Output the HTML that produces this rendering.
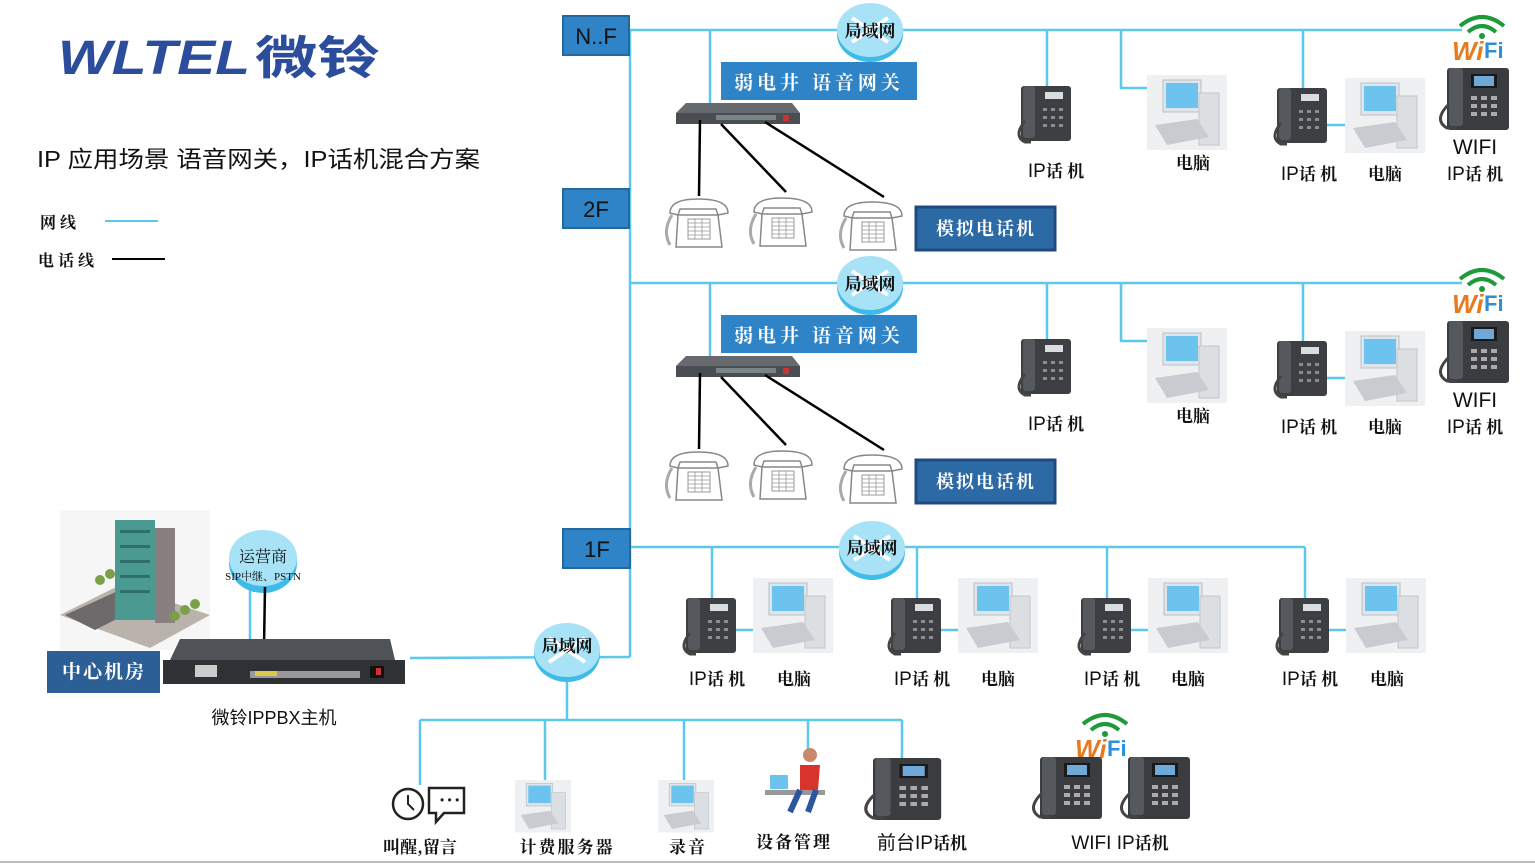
<!DOCTYPE html>
<html><head><meta charset="utf-8"><style>
html,body{margin:0;padding:0;background:#fff;}
svg{display:block;}
text{font-family:"Liberation Sans","Noto Sans CJK SC",sans-serif;}
.cj{font-family:"Noto Serif CJK SC","Noto Sans CJK SC",serif;font-weight:bold;}
</style></head><body>
<svg width="1535" height="864" viewBox="0 0 1535 864" xmlns="http://www.w3.org/2000/svg">
<defs>
<g id="ipp">
 <rect x="0" y="0" width="50" height="55" rx="3" fill="#3d3f43"/>
 <rect x="2" y="0" width="12" height="52" rx="3" fill="#55585d"/>
 <rect x="24" y="6" width="18" height="7" fill="#d8dde2"/>
 <g fill="#8a8d92"><rect x="22" y="22" width="4" height="3"/><rect x="30" y="22" width="4" height="3"/><rect x="38" y="22" width="4" height="3"/><rect x="22" y="30" width="4" height="3"/><rect x="30" y="30" width="4" height="3"/><rect x="38" y="30" width="4" height="3"/><rect x="22" y="38" width="4" height="3"/><rect x="30" y="38" width="4" height="3"/><rect x="38" y="38" width="4" height="3"/></g>
 <path d="M4 35 Q-8 50 4 56 L10 56" stroke="#444" stroke-width="3" fill="none"/>
</g>
<g id="pc">
 <rect x="0" y="0" width="80" height="75" fill="#eef0f1"/>
 <rect x="16" y="5" width="38" height="32" fill="#dfe5ea" stroke="#b7c0c8"/>
 <rect x="19" y="8" width="32" height="25" fill="#6cc4ee"/>
 <rect x="52" y="18" width="20" height="52" fill="#dcdfe2" stroke="#c2c6ca"/>
 <path d="M8 50 L50 44 L62 62 L20 70 Z" fill="#c8ccd0"/>
</g>
<g id="ana">
 <path d="M4 18 Q4 4 32 4 Q62 4 62 18 L52 20 L50 14 L14 14 L12 20 Z" fill="#fff" stroke="#888" stroke-width="1.5"/>
 <path d="M12 20 L52 20 L56 52 L10 52 Z" fill="#fff" stroke="#888" stroke-width="1.5"/>
 <rect x="22" y="24" width="22" height="20" fill="#fff" stroke="#999"/>
 <path d="M22 28h22M22 32h22M22 36h22M22 40h22M29 24v20M36 24v20" stroke="#999" stroke-width="0.8"/>
 <path d="M6 20 Q-4 36 4 50" stroke="#aaa" stroke-width="3" fill="none"/>
</g>
<g id="cloud">
 <ellipse cx="0" cy="4" rx="33" ry="28" fill="#3fbbe8"/>
 <ellipse cx="0" cy="0" rx="33" ry="27" fill="#a8e2f6"/>
 <path d="M-18 -12 L18 12 M18 -12 L-18 12" stroke="#fff" stroke-width="4"/>
</g>
<g id="wifi">
 <path d="M8 14 Q30 -4 52 14" stroke="#1f9a3a" stroke-width="4" fill="none"/>
 <path d="M16 20 Q30 8 44 20" stroke="#1f9a3a" stroke-width="4" fill="none"/>
 <circle cx="30" cy="24" r="3" fill="#1f9a3a"/>
 <text x="0" y="48" font-size="26" font-weight="bold" font-style="italic" fill="#e87a1e">Wi</text>
 <text x="32" y="46" font-size="22" font-weight="bold" fill="#2e8ed8">Fi</text>
</g>
<g id="wphone">
 <rect x="10" y="0" width="62" height="62" rx="3" fill="#3a3c40"/>
 <rect x="12" y="0" width="14" height="58" rx="3" fill="#55585d"/>
 <rect x="34" y="6" width="26" height="14" fill="#1a1a1a"/><rect x="37" y="8" width="20" height="10" fill="#6fa9d8"/>
 <g fill="#aaa"><rect x="34" y="28" width="6" height="4"/><rect x="44" y="28" width="6" height="4"/><rect x="54" y="28" width="6" height="4"/><rect x="34" y="36" width="6" height="4"/><rect x="44" y="36" width="6" height="4"/><rect x="54" y="36" width="6" height="4"/><rect x="34" y="44" width="6" height="4"/><rect x="44" y="44" width="6" height="4"/><rect x="54" y="44" width="6" height="4"/></g>
 <path d="M12 36 Q-4 52 10 60 L20 60" stroke="#444" stroke-width="3" fill="none"/>
</g>
<g id="gw">
 <path d="M10 0 L116 0 L124 10 L0 10 Z" fill="#666a6e"/>
 <rect x="0" y="10" width="124" height="11" fill="#4a4d51"/>
 <rect x="40" y="12" width="60" height="5" fill="#9aa" opacity="0.6"/>
 <rect x="107" y="12" width="6" height="6" fill="#c33"/>
</g>
</defs>

<!-- logo -->
<text x="58" y="74" font-size="48" font-weight="bold" font-style="italic" fill="#2c4d9c" textLength="192" lengthAdjust="spacingAndGlyphs">WLTEL</text>
<text x="255" y="74" font-size="46" font-weight="bold" fill="#2c4d9c" style="font-family:'Noto Sans CJK SC',sans-serif" textLength="125" lengthAdjust="spacingAndGlyphs">微铃</text>
<text x="37" y="167" font-size="23" fill="#111" textLength="443" lengthAdjust="spacingAndGlyphs">IP 应用场景 语音网关，IP话机混合方案</text>
<text x="40" y="228" font-size="16" class="cj" fill="#111">网 线</text>
<line x1="105" y1="221" x2="158" y2="221" stroke="#5bc8ec" stroke-width="2"/>
<text x="38" y="266" font-size="16" class="cj" fill="#111">电 话 线</text>
<line x1="112" y1="259" x2="165" y2="259" stroke="#000" stroke-width="2"/>

<g stroke="#5bc8ec" stroke-width="2.5" fill="none">
 <line x1="630" y1="30" x2="630" y2="657"/>
 <line x1="410" y1="658" x2="630" y2="657"/>
 <line x1="630" y1="30" x2="1462" y2="30"/>
 <line x1="710" y1="30" x2="710" y2="105"/>
 <line x1="1047" y1="30" x2="1047" y2="88"/>
 <polyline points="1121,30 1121,88 1158,88"/>
 <line x1="1303" y1="30" x2="1303" y2="90"/>
 <line x1="1320" y1="125" x2="1360" y2="125"/>
 <line x1="630" y1="283" x2="1462" y2="283"/>
 <line x1="710" y1="283" x2="710" y2="358"/>
 <line x1="1047" y1="283" x2="1047" y2="341"/>
 <polyline points="1121,283 1121,341 1158,341"/>
 <line x1="1303" y1="283" x2="1303" y2="343"/>
 <line x1="1320" y1="378" x2="1360" y2="378"/>
 <line x1="630" y1="547" x2="1305" y2="547"/>
 <line x1="712" y1="547" x2="712" y2="598"/>
 <line x1="917" y1="547" x2="917" y2="600"/>
 <line x1="1107" y1="547" x2="1107" y2="598"/>
 <line x1="1305" y1="547" x2="1305" y2="598"/>
 <line x1="735" y1="630" x2="770" y2="630"/>
 <line x1="940" y1="630" x2="975" y2="630"/>
 <line x1="1130" y1="630" x2="1165" y2="630"/>
 <line x1="1328" y1="630" x2="1363" y2="630"/>
 <line x1="567" y1="660" x2="567" y2="720"/>
 <line x1="420" y1="720" x2="902" y2="720"/>
 <line x1="420" y1="720" x2="420" y2="785"/>
 <line x1="545" y1="720" x2="545" y2="782"/>
 <line x1="684" y1="720" x2="684" y2="782"/>
 <line x1="808" y1="720" x2="808" y2="760"/>
 <line x1="902" y1="720" x2="902" y2="760"/>
 <line x1="250" y1="585" x2="250" y2="645"/>
</g>

<g font-size="22" fill="#111">
<rect x="563" y="16" width="66" height="39" fill="#2e84c6" stroke="#24699e" stroke-width="2"/><text x="596" y="44" text-anchor="middle">N..F</text>
<rect x="563" y="189" width="66" height="39" fill="#2e84c6" stroke="#24699e" stroke-width="2"/><text x="596" y="217" text-anchor="middle">2F</text>
<rect x="563" y="529" width="67" height="39" fill="#2e84c6" stroke="#24699e" stroke-width="2"/><text x="597" y="557" text-anchor="middle">1F</text>
</g>

<g id="blk">
 <use href="#cloud" x="870" y="30"/>
 <text x="870" y="37" font-size="17" class="cj" text-anchor="middle" fill="#111">局域网</text>
 <rect x="721" y="62" width="196" height="38" fill="#2e84c6"/>
 <text x="819" y="89" font-size="19" class="cj" text-anchor="middle" fill="#fff" letter-spacing="4">弱电井 语音网关</text>
 <use href="#gw" x="676" y="103"/>
 <g stroke="#000" stroke-width="2.5"><line x1="700" y1="120" x2="699" y2="196"/><line x1="721" y1="124" x2="786" y2="192"/><line x1="765" y1="122" x2="884" y2="197"/></g>
 <use href="#ana" x="666" y="195"/><use href="#ana" x="750" y="194"/><use href="#ana" x="840" y="198"/>
 <rect x="916" y="207" width="139" height="43" fill="#2c6aa5" stroke="#1f4a7f" stroke-width="3"/>
 <text x="986" y="235" font-size="18" class="cj" text-anchor="middle" fill="#fff" letter-spacing="2">模拟电话机</text>
 <use href="#ipp" x="1021" y="86"/>
 <use href="#pc" x="1147" y="75"/>
 <use href="#ipp" x="1277" y="88"/>
 <use href="#pc" x="1345" y="78"/>
 <use href="#wifi" x="1452" y="12"/>
 <use href="#wphone" x="1437" y="68"/>
 <g font-size="19" fill="#111" text-anchor="middle">
  <text x="1056" y="177">IP<tspan class="cj" font-size="17">话 机</tspan></text>
  <text x="1193" y="169" class="cj" font-size="17">电脑</text>
  <text x="1309" y="180">IP<tspan class="cj" font-size="17">话 机</tspan></text>
  <text x="1385" y="180" class="cj" font-size="17">电脑</text>
  <text x="1475" y="154" font-size="21">WIFI</text>
  <text x="1475" y="180">IP<tspan class="cj" font-size="17">话 机</tspan></text>
 </g>
</g>
<use href="#blk" y="253"/>

<use href="#cloud" x="872" y="548"/>
<text x="872" y="554" font-size="17" class="cj" text-anchor="middle" fill="#111">局域网</text>
<use href="#ipp" x="686" y="598"/><use href="#pc" x="753" y="578"/>
<use href="#ipp" x="891" y="598"/><use href="#pc" x="958" y="578"/>
<use href="#ipp" x="1081" y="598"/><use href="#pc" x="1148" y="578"/>
<use href="#ipp" x="1279" y="598"/><use href="#pc" x="1346" y="578"/>
<g font-size="19" fill="#111" text-anchor="middle">
 <text x="717" y="685">IP<tspan class="cj" font-size="17">话 机</tspan></text><text x="794" y="685" class="cj" font-size="17">电脑</text>
 <text x="922" y="685">IP<tspan class="cj" font-size="17">话 机</tspan></text><text x="998" y="685" class="cj" font-size="17">电脑</text>
 <text x="1112" y="685">IP<tspan class="cj" font-size="17">话 机</tspan></text><text x="1188" y="685" class="cj" font-size="17">电脑</text>
 <text x="1310" y="685">IP<tspan class="cj" font-size="17">话 机</tspan></text><text x="1387" y="685" class="cj" font-size="17">电脑</text>
</g>

<!-- center -->
<rect x="60" y="510" width="150" height="140" fill="#f6f6f6"/>
<path d="M60 615 L120 585 L210 615 L150 648 Z" fill="#b9b3ab"/>
<path d="M65 615 L120 590 L150 602 L95 630 Z" fill="#6d6a6c"/>
<rect x="115" y="520" width="40" height="100" fill="#4a9a92"/>
<g fill="#2f6f6a"><rect x="120" y="530" width="30" height="3"/><rect x="120" y="545" width="30" height="3"/><rect x="120" y="560" width="30" height="3"/><rect x="120" y="575" width="30" height="3"/><rect x="120" y="590" width="30" height="3"/></g>
<rect x="155" y="528" width="20" height="95" fill="#8a7f80"/>
<g fill="#7aa04a"><circle cx="100" cy="580" r="5"/><circle cx="110" cy="574" r="5"/><circle cx="185" cy="610" r="5"/><circle cx="195" cy="604" r="5"/><circle cx="175" cy="616" r="5"/></g>
<rect x="47" y="651" width="113" height="42" fill="#2b5f95"/>
<text x="104" y="678" font-size="19" class="cj" text-anchor="middle" fill="#fff" letter-spacing="2">中心机房</text>
<ellipse cx="263" cy="563" rx="34" ry="30" fill="#3fbbe8"/>
<ellipse cx="263" cy="558" rx="34" ry="28" fill="#a8e2f6"/>
<text x="263" y="562" font-size="16" class="cj" text-anchor="middle" fill="#111" style="font-weight:normal">运营商</text>
<text x="263" y="580" font-size="11" text-anchor="middle" fill="#111" style="font-family:'Liberation Serif','Noto Serif CJK SC',serif">SIP中继、PSTN</text>
<line x1="265" y1="587" x2="264" y2="646" stroke="#000" stroke-width="2.5"/>
<path d="M180 639 L390 639 L395 660 L170 660 Z" fill="#4f5357"/>
<rect x="163" y="660" width="242" height="24" fill="#2f3235"/>
<rect x="250" y="671" width="110" height="7" fill="#999"/>
<rect x="255" y="671" width="22" height="5" fill="#d9c84a"/>
<rect x="195" y="665" width="22" height="12" fill="#ccc"/>
<rect x="370" y="666" width="14" height="12" fill="#111"/><rect x="376" y="668" width="5" height="7" fill="#c33"/>
<text x="274" y="724" font-size="18" fill="#111" text-anchor="middle">微铃IPPBX主机</text>

<use href="#cloud" x="567" y="650"/>
<text x="567" y="652" font-size="17" class="cj" text-anchor="middle" fill="#111">局域网</text>

<circle cx="408" cy="804" r="15" fill="#fff" stroke="#222" stroke-width="2.5"/>
<path d="M408 795 L408 804 L414 810" stroke="#222" stroke-width="2" fill="none"/>
<path d="M429 788 H464 V813 H444 L436 822 L436 813 H429 Z" fill="#fff" stroke="#222" stroke-width="2.5"/>
<text x="440" y="804" font-size="12" fill="#222">• • •</text>
<use href="#pc" transform="translate(515 780) scale(0.7)"/>
<use href="#pc" transform="translate(658 780) scale(0.7)"/>
<rect x="765" y="790" width="60" height="5" fill="#999"/>
<circle cx="810" cy="755" r="7" fill="#c9896a"/>
<path d="M800 765 L820 765 L818 790 L800 790 Z" fill="#d8342c"/>
<path d="M800 790 L790 812 M816 790 L808 812" stroke="#2b57a0" stroke-width="6"/>
<rect x="770" y="775" width="18" height="14" fill="#6cc4ee"/>
<g transform="translate(862 758) scale(1.1 1.0)"><use href="#wphone"/></g>
<use href="#wifi" x="1075" y="710"/>
<use href="#wphone" x="1030" y="757"/>
<use href="#wphone" x="1118" y="757"/>
<g fill="#111" text-anchor="middle">
 <text x="420" y="853" font-size="17" class="cj">叫醒,留言</text>
 <text x="567" y="853" font-size="17" class="cj" letter-spacing="2">计费服务器</text>
 <text x="688" y="853" font-size="17" class="cj" letter-spacing="2">录音</text>
 <text x="794" y="848" font-size="17" class="cj" letter-spacing="2">设备管理</text>
 <text x="922" y="849" font-size="19">前台IP<tspan class="cj" font-size="17">话机</tspan></text>
 <text x="1120" y="849" font-size="19">WIFI IP<tspan class="cj" font-size="17">话机</tspan></text>
</g>
<line x1="0" y1="862" x2="1535" y2="862" stroke="#bbb" stroke-width="2"/>
</svg>
</body></html>
